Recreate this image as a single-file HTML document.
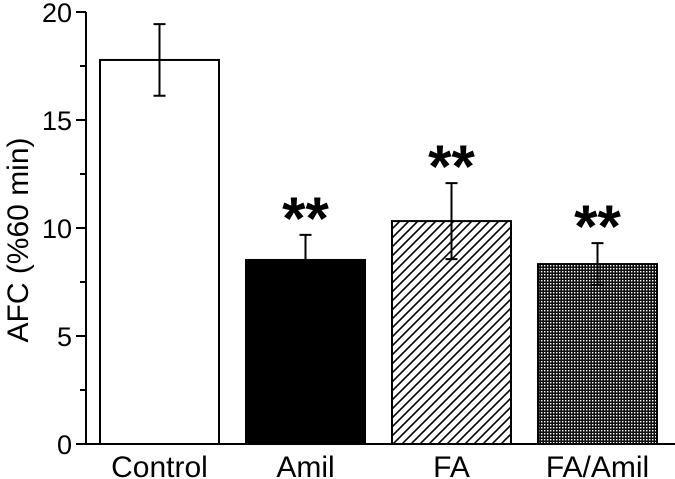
<!DOCTYPE html>
<html><head><meta charset="utf-8"><style>
html,body{margin:0;padding:0;background:#fff;}
svg{display:block;font-family:"Liberation Sans",Arial,sans-serif;}
</style></head><body>
<svg id="chart" width="675" height="479" viewBox="0 0 675 479">
<defs>
<pattern id="hatch" patternUnits="userSpaceOnUse" width="9" height="9">
<path d="M-2,11 L11,-2 M-2,2 L2,-2 M7,11 L11,7" stroke="#000" stroke-width="1.6"/>
</pattern>
<pattern id="grid" patternUnits="userSpaceOnUse" width="3" height="3">
<rect width="3" height="3" fill="#111"/><rect x="1" y="1" width="1.4" height="1.4" fill="#fff"/>
</pattern>
</defs>
<g id="plot"></g>
</svg>
<script>
const categories = ["Control","Amil","FA","FA/Amil"];
const means = [17.78, 8.52, 10.32, 8.33];
const errs = [1.66, 1.16, 1.76, 0.97];
const stars = ["", "**", "**", "**"];
const yTicks = [0,5,10,15,20];
const fills = ["#fff","#000","url(#hatch)","url(#grid)"];

const NS="http://www.w3.org/2000/svg";
const g=document.getElementById('plot');
const x0=86, y0=444, pxPerUnit=21.6;
const barW=119, barStart=100, step=146;
function yS(v){return y0 - v*pxPerUnit;}
function xS(i){return barStart + i*step;}
function mk(t,a){const e=document.createElementNS(NS,t);for(const k in a)e.setAttribute(k,a[k]);g.appendChild(e);return e;}

categories.forEach((c,i)=>{
  const x=xS(i), top=yS(means[i]), cx=x+barW/2;
  const r=mk('rect',{x:x,y:top,width:barW,height:y0-top,fill:fills[i],stroke:'#000','stroke-width':2});
  
  
  const hi=yS(means[i]+errs[i]), lo=yS(means[i]-errs[i]);
  const eb=mk('path',{d:`M${cx},${hi}V${lo}M${cx-6},${hi}H${cx+6}M${cx-6},${lo}H${cx+6}`,stroke:'#000','stroke-width':2,fill:'none'});
  
  
  const lb=mk('text',{x:cx,y:477,'text-anchor':'middle','font-size':30});
  lb.textContent=c;
  
  
  if(stars[i]){
    const s=mk('text',{x:cx,y:hi+4,'text-anchor':'middle','font-size':60,'font-weight':'bold'});
    s.textContent=stars[i];
    
    
  }
});
const ax=mk('path',{d:`M${x0},${yS(20)}V${y0}H675`,stroke:'#000','stroke-width':2,fill:'none'});


yTicks.forEach(v=>{
  const t=mk('path',{d:`M${x0-10},${yS(v)}H${x0}`,stroke:'#000','stroke-width':2});
  
  
  const l=mk('text',{x:72,y:yS(v)+10,'text-anchor':'end','font-size':27});
  l.textContent=v;
  
  
  if(v<20){const m=mk('path',{d:`M${x0-6},${yS(v+2.5)}H${x0}`,stroke:'#000','stroke-width':2});
  
  }
});
const yt=mk('text',{x:0,y:0,'text-anchor':'middle','font-size':30,transform:`translate(28,${yS(10)+12}) rotate(-90)`});
yt.textContent='AFC (%60 min)';


</script>
</body></html>
